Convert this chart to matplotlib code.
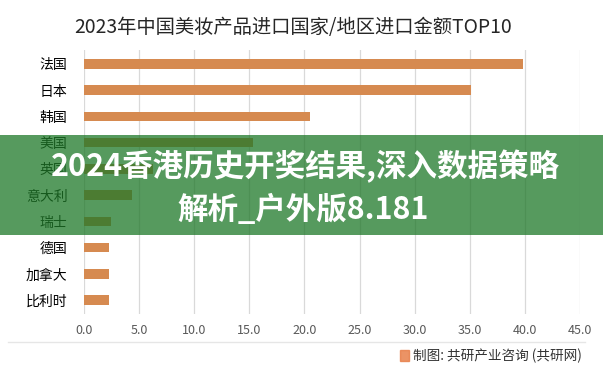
import matplotlib
matplotlib.use("Agg")
import matplotlib.pyplot as plt
from matplotlib.patches import Rectangle

plt.rcParams['font.family'] = ['Noto Sans CJK SC', 'DejaVu Sans']

title = "2023年中国美妆产品进口国家/地区进口金额TOP10"
categories = ["法国", "日本", "韩国", "美国", "英国", "意大利", "瑞士", "德国", "加拿大", "比利时"]
values = [39.8, 35.1, 20.5, 15.3, 6.3, 4.4, 2.45, 2.3, 2.25, 2.25]
xticks = [0, 5, 10, 15, 20, 25, 30, 35, 40, 45]
credit = "制图: 共研产业咨询 (共研网)"
banner_lines = ["2024香港历史开奖结果,深入数据策略", "解析_户外版8.181"]

W, H = 603, 374
fig = plt.figure(figsize=(W / 100, H / 100), dpi=100)
fig.patch.set_facecolor("white")

ax = fig.add_axes([84 / W, 1 - 314 / H, (580 - 84) / W, (314 - 50) / H])
y = list(range(len(categories)))
ax.barh(y, values, height=0.36, color="#D68A50", zorder=2)
ax.set_ylim(len(categories) - 0.47, -0.53)
ax.set_xlim(0, 45)
ax.set_xticks(xticks)
ax.set_xticklabels([f"{v:.1f}" for v in xticks], fontsize=9, color="#595959")
ax.set_yticks(y)
ax.set_yticklabels(categories, fontsize=10, color="#000000")
ax.tick_params(axis="both", length=0)
ax.tick_params(axis="y", pad=12)
ax.tick_params(axis="x", pad=7)
ax.grid(axis="x", color="#d9d9d9", linewidth=0.9, zorder=0)
for s in ax.spines.values():
    s.set_visible(False)

fig.text(293 / W, 1 - 27 / H, title, ha="center", va="center", fontsize=13.9, color="#262626")

# separator line and credit
fig.add_artist(plt.Line2D([8 / W, 585 / W], [1 - 342 / H, 1 - 342 / H], color="#e6e6e6", linewidth=1))
fig.add_artist(Rectangle((400 / W, 1 - 361 / H), 9 / W, 11 / H, color="#E8804A", alpha=0.85))
fig.text(582 / W, 1 - 356 / H, credit, ha="right", va="center", fontsize=9.8, color="#333333")

# overlay banner
fig.add_artist(Rectangle((0, 1 - 235 / H), 1, 100 / H, facecolor="#1e7828", alpha=0.75,
                         edgecolor="none", zorder=10))
fig.text(305 / W, 1 - 166 / H, banner_lines[0], ha="center", va="center", fontsize=22,
         fontweight="bold", color="white", zorder=11)
fig.text(303 / W, 1 - 210 / H, banner_lines[1], ha="center", va="center", fontsize=22,
         fontweight="bold", color="white", zorder=11)

fig.savefig("out.png", dpi=100)
